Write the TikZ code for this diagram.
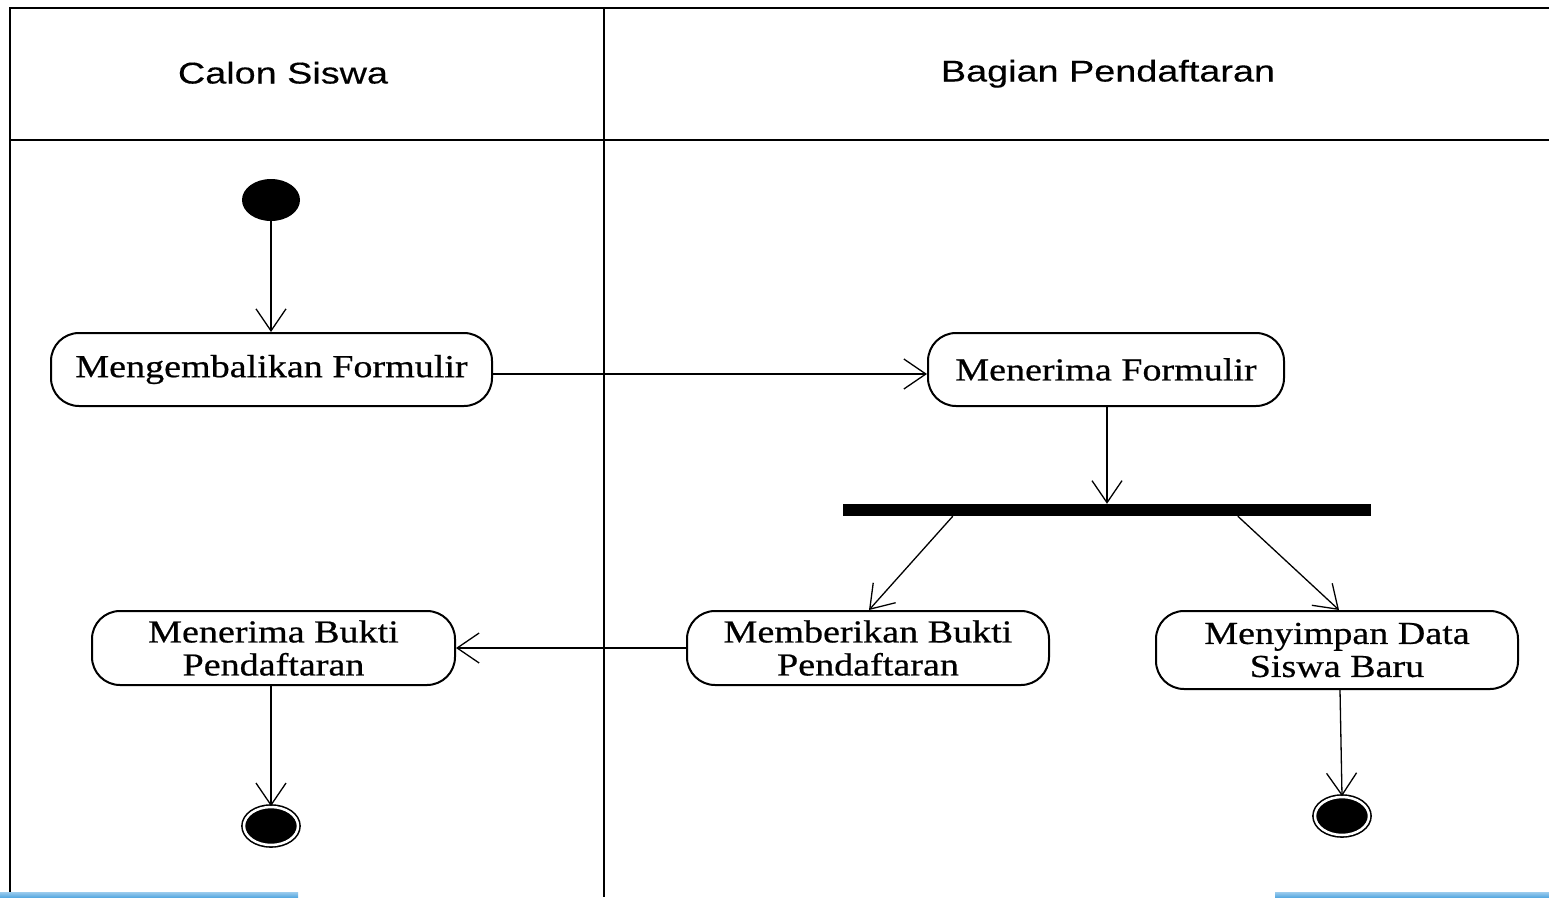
\documentclass[tikz,border=0pt]{standalone}
\usepackage{fontspec}
\usetikzlibrary{arrows.meta,shapes.geometric,calc}
\newfontfamily\actfont[FakeStretch=1.19,FakeBold=0.6]{Liberation Serif}
\newfontfamily\headfont[FakeStretch=1.26,FakeBold=0.3]{Liberation Sans}
\definecolor{barblue}{RGB}{90,170,225}
\begin{document}
\begin{tikzpicture}[x=1pt,y=-1pt,
  frame/.style={line width=2pt},
  act/.style={draw, line width=2pt, rounded corners=28pt, inner sep=0pt,
    font=\actfont\fontsize{32}{33}\selectfont, align=center},
  head/.style={font=\headfont\fontsize{30}{30}\selectfont, inner sep=0pt, anchor=base},
  flow/.style={line width=1.3pt, -{Straight Barb[length=22pt,width=30pt,line width=1.3pt]}},
  startnode/.style={ellipse, fill=black, inner sep=0pt, minimum width=58pt, minimum height=42pt},
  endnode/.style={ellipse, draw, fill=black, double=white, double distance=2.5pt, line width=1.6pt,
    inner sep=0pt, minimum width=54pt, minimum height=38pt},
  forkbar/.style={fill=black, inner sep=0pt, minimum width=528pt, minimum height=12pt}
]
\useasboundingbox (0,0) rectangle (1549,897);
% swimlane frame
\draw[frame] (10,897) -- (10,8) -- (1549,8);
\draw[frame] (604,8) -- (604,897);
\draw[frame] (10,140) -- (1549,140);
\node[head] (lane1) at (283,83.5) {Calon Siswa};
\node[head] (lane2) at (1108,81.5) {Bagian Pendaftaran};
% bottom blue bars
\fill[barblue, top color=barblue!60, bottom color=barblue] (0,892) rectangle (298,897);
\fill[barblue, top color=barblue!60, bottom color=barblue] (1275,892) rectangle (1549,897);
% nodes
\node[startnode] (start) at (271,200) {};
\node[act, minimum width=441pt, minimum height=73pt] (mf) at (271.5,369.5) {Mengembalikan Formulir};
\node[act, minimum width=356pt, minimum height=73pt] (mr) at (1106,369.5) {Menerima Formulir};
\node[forkbar] (fork) at (1107,510) {};
\node[act, minimum width=362pt, minimum height=74pt] (mb) at (868,648) {Memberikan Bukti\\Pendaftaran};
\node[act, minimum width=362pt, minimum height=78pt] (ms) at (1337,650) {Menyimpan Data\\Siswa Baru};
\node[act, minimum width=363pt, minimum height=74pt] (mbp) at (273.5,648) {Menerima Bukti\\Pendaftaran};
\node[endnode] (end1) at (271,826) {};
\node[endnode] (end2) at (1342,816) {};
% flows
\draw[flow] (start) -- (start |- mf.north);
\draw[flow] ([yshift=-4.5pt]mf.east) -- ([yshift=-4.5pt]mr.west);
\draw[flow] (mr.south -| 1107,0) -- (fork.north -| 1107,0);
\draw[flow] ([xshift=110pt]fork.south west) -- ([xshift=183pt]mb.north west);
\draw[flow] ([xshift=395pt]fork.south west) -- ([xshift=184pt]ms.north west);
\draw[flow] (mb.west) -- (mbp.east);
\draw[flow] (mbp.south -| end1) -- (end1.north);
\draw[flow] ([xshift=3pt]ms.south) -- (end2.north);
\end{tikzpicture}
\end{document}
